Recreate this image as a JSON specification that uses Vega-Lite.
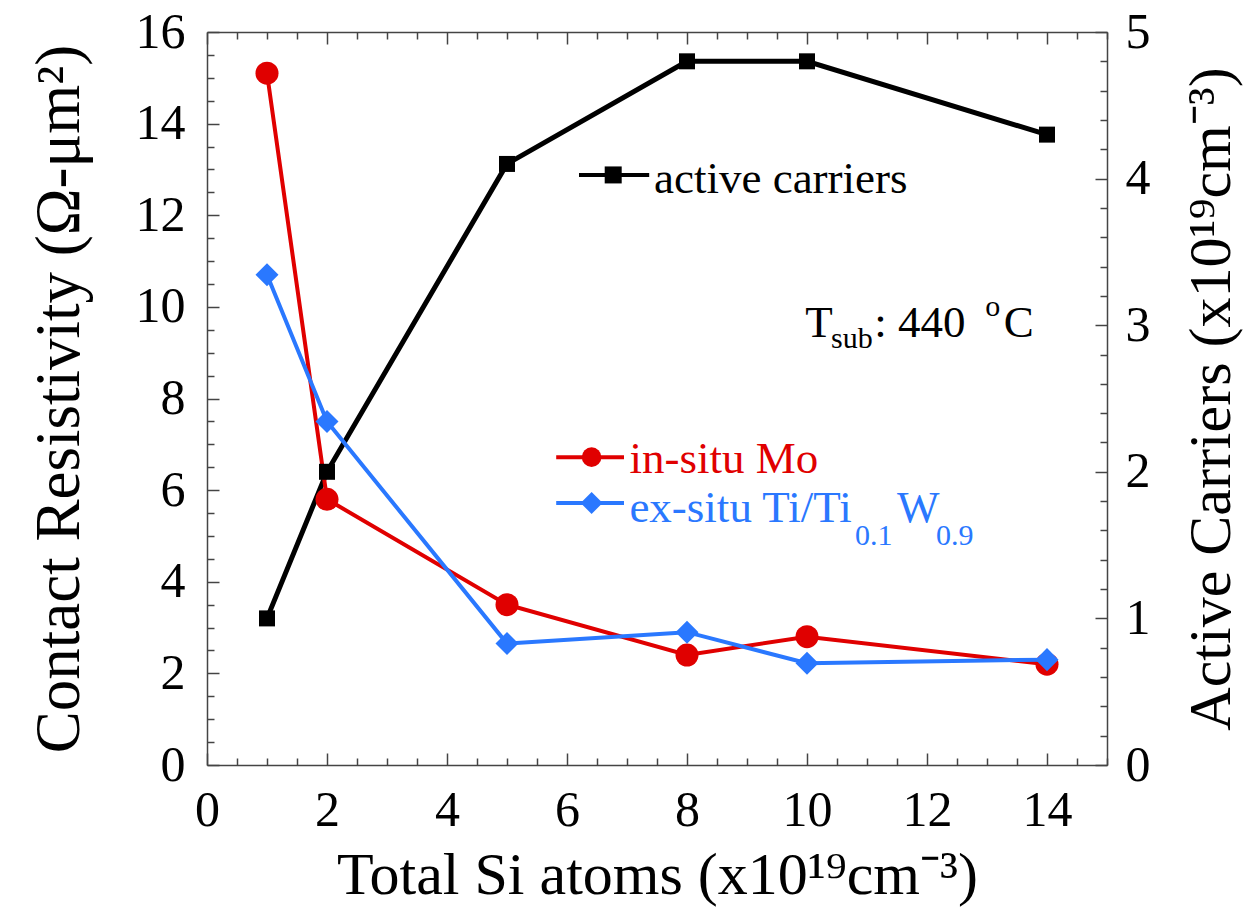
{
  "$schema": "https://vega.github.io/schema/vega-lite/v6.json",
  "width": 900,
  "height": 733,
  "autosize": {"type": "none"},
  "padding": {"left": 207, "top": 32, "right": 142, "bottom": 151},
  "background": "white",
  "config": {
    "view": {"stroke": null},
    "font": "Liberation Serif",
    "axis": {
      "domainColor": "#444444", "tickColor": "#444444", "domainWidth": 1.5, "tickWidth": 1.5,
      "grid": false, "labelFont": "Liberation Serif", "labelColor": "black",
      "titleFont": "Liberation Serif", "titleColor": "black", "titleFontWeight": "normal",
      "labelOverlap": false, "labelFlush": false
    }
  },
  "datasets": {
    "series": [
      {"si": 1, "series": "Mo", "value": 15.1},
      {"si": 2, "series": "Mo", "value": 5.8},
      {"si": 5, "series": "Mo", "value": 3.5},
      {"si": 8, "series": "Mo", "value": 2.4},
      {"si": 10, "series": "Mo", "value": 2.8},
      {"si": 14, "series": "Mo", "value": 2.2},
      {"si": 1, "series": "TiW", "value": 10.7},
      {"si": 2, "series": "TiW", "value": 7.5},
      {"si": 5, "series": "TiW", "value": 2.65},
      {"si": 8, "series": "TiW", "value": 2.9},
      {"si": 10, "series": "TiW", "value": 2.22},
      {"si": 14, "series": "TiW", "value": 2.3},
      {"si": 1, "series": "carriers", "value": 1.0},
      {"si": 2, "series": "carriers", "value": 2.0},
      {"si": 5, "series": "carriers", "value": 4.1},
      {"si": 8, "series": "carriers", "value": 4.8},
      {"si": 10, "series": "carriers", "value": 4.8},
      {"si": 14, "series": "carriers", "value": 4.3}
    ],
    "legendLines": [
      {"key": "carriers", "x": 6.2, "y": 12.88},
      {"key": "carriers", "x": 7.37, "y": 12.88},
      {"key": "Mo", "x": 5.82, "y": 6.72},
      {"key": "Mo", "x": 6.95, "y": 6.72},
      {"key": "TiW", "x": 5.82, "y": 5.72},
      {"key": "TiW", "x": 6.95, "y": 5.72}
    ],
    "legendMarks": [
      {"key": "carriers", "x": 6.77, "y": 12.88},
      {"key": "Mo", "x": 6.41, "y": 6.72},
      {"key": "TiW", "x": 6.41, "y": 5.72}
    ],
    "labels": [
      {"group": "bigBlack", "x": 7.45, "y": 12.49, "text": "active carriers"},
      {"group": "bigBlack", "x": 9.97, "y": 9.34, "text": "T"},
      {"group": "bigBlack", "x": 11.12, "y": 9.34, "text": ": 440"},
      {"group": "bigBlack", "x": 13.28, "y": 9.34, "text": "C"},
      {"group": "smallBlack", "x": 10.4, "y": 9.1, "text": "sub"},
      {"group": "smallBlack", "x": 12.97, "y": 9.8, "text": "o"},
      {"group": "bigRed", "x": 7.04, "y": 6.37, "text": "in-situ Mo"},
      {"group": "bigBlue", "x": 7.04, "y": 5.3, "text": "ex-situ Ti/Ti"},
      {"group": "bigBlue", "x": 11.5, "y": 5.3, "text": "W"},
      {"group": "smallBlue", "x": 10.8, "y": 4.8, "text": "0.1"},
      {"group": "smallBlue", "x": 12.15, "y": 4.8, "text": "0.9"}
    ]
  },
  "layer": [
    {
      "data": {"name": "series"},
      "transform": [{"filter": "datum.series === 'carriers'"}],
      "mark": {"type": "line", "color": "black", "strokeWidth": 5},
      "encoding": {
        "x": {"field": "si", "type": "quantitative", "scale": {"domain": [0, 15], "nice": false}, "axis": null},
        "y": {"field": "value", "type": "quantitative", "scale": {"domain": [0, 5], "nice": false}, "axis": null}
      }
    },
    {
      "encoding": {
        "x": {
          "type": "quantitative",
          "scale": {"domain": [0, 15], "nice": false},
          "axis": {
            "orient": "bottom",
            "values": [0, 0.5, 1, 1.5, 2, 2.5, 3, 3.5, 4, 4.5, 5, 5.5, 6, 6.5, 7, 7.5, 8, 8.5, 9, 9.5, 10, 10.5, 11, 11.5, 12, 12.5, 13, 13.5, 14, 14.5, 15],
            "labelExpr": "datum.value % 2 == 0 && datum.value < 15 ? '' + datum.value : ''",
            "tickSize": {"condition": {"test": "datum.value % 2 == 0", "value": -12}, "value": -7},
            "labelPadding": 32,
            "labelFontSize": 50,
            "title": "Total Si atoms (x10¹⁹cm⁻³)",
            "titleFontSize": 60,
            "titlePadding": 6
          }
        },
        "y": {
          "type": "quantitative",
          "scale": {"domain": [0, 16], "nice": false},
          "axis": {
            "orient": "left",
            "values": [0, 0.5, 1, 1.5, 2, 2.5, 3, 3.5, 4, 4.5, 5, 5.5, 6, 6.5, 7, 7.5, 8, 8.5, 9, 9.5, 10, 10.5, 11, 11.5, 12, 12.5, 13, 13.5, 14, 14.5, 15, 15.5, 16],
            "labelExpr": "datum.value % 2 == 0 ? '' + datum.value : ''",
            "tickSize": {"condition": {"test": "datum.value % 2 == 0", "value": -12}, "value": -7},
            "labelPadding": 34,
            "labelFontSize": 50,
            "title": "Contact Resistivity (Ω-μm²)",
            "titleFontSize": 63,
            "titlePadding": 44
          }
        }
      },
      "layer": [
        {
          "data": {"name": "series"},
          "transform": [{"filter": "datum.series === 'Mo'"}],
          "mark": {"type": "line", "color": "#e00000", "strokeWidth": 4},
          "encoding": {"x": {"field": "si"}, "y": {"field": "value"}}
        },
        {
          "data": {"name": "series"},
          "transform": [{"filter": "datum.series === 'Mo'"}],
          "mark": {"type": "point", "shape": "circle", "filled": true, "color": "#e00000", "opacity": 1, "size": 530},
          "encoding": {"x": {"field": "si"}, "y": {"field": "value"}}
        },
        {
          "data": {"name": "series"},
          "transform": [{"filter": "datum.series === 'TiW'"}],
          "mark": {"type": "line", "color": "#2a78ff", "strokeWidth": 4},
          "encoding": {"x": {"field": "si"}, "y": {"field": "value"}}
        },
        {
          "data": {"name": "series"},
          "transform": [{"filter": "datum.series === 'TiW'"}],
          "mark": {"type": "point", "shape": "diamond", "filled": true, "color": "#2a78ff", "opacity": 1, "size": 530},
          "encoding": {"x": {"field": "si"}, "y": {"field": "value"}}
        },
        {
          "data": {"name": "legendLines"},
          "mark": {"type": "line", "strokeWidth": 4},
          "encoding": {
            "x": {"field": "x"}, "y": {"field": "y"}, "detail": {"field": "key"},
            "color": {"field": "key", "type": "nominal", "scale": {"domain": ["carriers", "Mo", "TiW"], "range": ["black", "#e00000", "#2a78ff"]}, "legend": null}
          }
        },
        {
          "data": {"name": "legendMarks"},
          "mark": {"type": "point", "filled": true, "opacity": 1, "size": 500},
          "encoding": {
            "x": {"field": "x"}, "y": {"field": "y"},
            "color": {"field": "key", "type": "nominal", "scale": {"domain": ["carriers", "Mo", "TiW"], "range": ["black", "#e00000", "#2a78ff"]}, "legend": null},
            "shape": {"field": "key", "type": "nominal", "scale": {"domain": ["carriers", "Mo", "TiW"], "range": ["square", "circle", "diamond"]}, "legend": null},
            "size": {"field": "key", "type": "nominal", "scale": {"domain": ["carriers", "Mo", "TiW"], "range": [289, 484, 484]}, "legend": null}
          }
        },
        {
          "data": {"name": "labels"},
          "transform": [{"filter": "datum.group === 'bigBlack'"}],
          "mark": {"type": "text", "align": "left", "baseline": "alphabetic", "fontSize": 45, "font": "Liberation Serif", "color": "black"},
          "encoding": {"x": {"field": "x"}, "y": {"field": "y"}, "text": {"field": "text"}}
        },
        {
          "data": {"name": "labels"},
          "transform": [{"filter": "datum.group === 'smallBlack'"}],
          "mark": {"type": "text", "align": "left", "baseline": "alphabetic", "fontSize": 30, "font": "Liberation Serif", "color": "black"},
          "encoding": {"x": {"field": "x"}, "y": {"field": "y"}, "text": {"field": "text"}}
        },
        {
          "data": {"name": "labels"},
          "transform": [{"filter": "datum.group === 'bigRed'"}],
          "mark": {"type": "text", "align": "left", "baseline": "alphabetic", "fontSize": 45, "font": "Liberation Serif", "color": "#e00000"},
          "encoding": {"x": {"field": "x"}, "y": {"field": "y"}, "text": {"field": "text"}}
        },
        {
          "data": {"name": "labels"},
          "transform": [{"filter": "datum.group === 'bigBlue'"}],
          "mark": {"type": "text", "align": "left", "baseline": "alphabetic", "fontSize": 45, "font": "Liberation Serif", "color": "#2a78ff"},
          "encoding": {"x": {"field": "x"}, "y": {"field": "y"}, "text": {"field": "text"}}
        },
        {
          "data": {"name": "labels"},
          "transform": [{"filter": "datum.group === 'smallBlue'"}],
          "mark": {"type": "text", "align": "left", "baseline": "alphabetic", "fontSize": 30, "font": "Liberation Serif", "color": "#2a78ff"},
          "encoding": {"x": {"field": "x"}, "y": {"field": "y"}, "text": {"field": "text"}}
        }
      ]
    },
    {
      "data": {"name": "series"},
      "transform": [{"filter": "datum.series === 'carriers'"}],
      "mark": {"type": "point", "shape": "square", "filled": true, "color": "black", "opacity": 1, "size": 256},
      "encoding": {
        "x": {
          "field": "si", "type": "quantitative", "scale": {"domain": [0, 15], "nice": false},
          "axis": {
            "orient": "top",
            "values": [0, 0.5, 1, 1.5, 2, 2.5, 3, 3.5, 4, 4.5, 5, 5.5, 6, 6.5, 7, 7.5, 8, 8.5, 9, 9.5, 10, 10.5, 11, 11.5, 12, 12.5, 13, 13.5, 14, 14.5, 15],
            "labels": false,
            "tickSize": {"condition": {"test": "datum.value % 2 == 0", "value": -12}, "value": -7},
            "title": null
          }
        },
        "y": {
          "field": "value", "type": "quantitative", "scale": {"domain": [0, 5], "nice": false},
          "axis": {
            "orient": "right",
            "values": [0, 0.2, 0.4, 0.6, 0.8, 1, 1.2, 1.4, 1.6, 1.8, 2, 2.2, 2.4, 2.6, 2.8, 3, 3.2, 3.4, 3.6, 3.8, 4, 4.2, 4.4, 4.6, 4.8, 5],
            "labelExpr": "datum.value % 1 == 0 ? '' + datum.value : ''",
            "tickSize": {"condition": {"test": "datum.value % 1 == 0", "value": -12}, "value": -7},
            "labelPadding": 30,
            "labelFontSize": 50,
            "title": "Active Carriers (x10¹⁹cm⁻³)",
            "titleFontSize": 60,
            "titleAngle": 270,
            "titleBaseline": "top",
            "titlePadding": 32
          }
        }
      }
    }
  ],
  "resolve": {"scale": {"y": "independent"}, "axis": {"x": "independent", "y": "independent"}}
}
